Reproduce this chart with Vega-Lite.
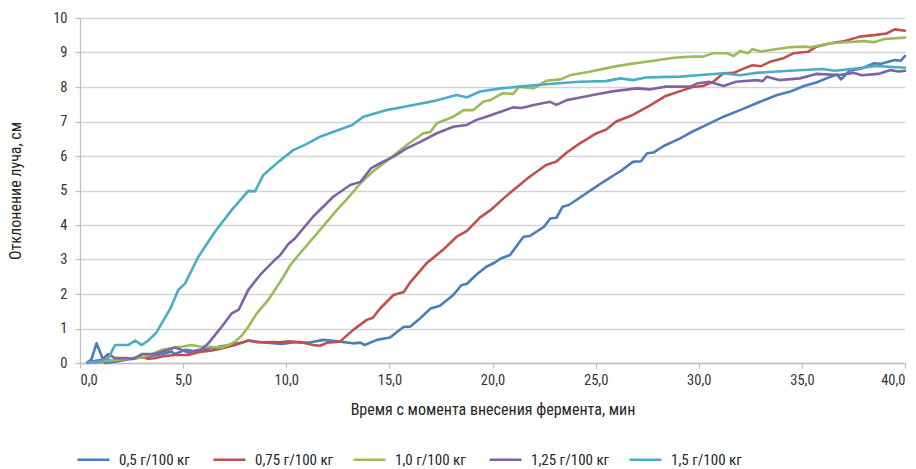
{
  "$schema": "https://vega.github.io/schema/vega-lite/v6.json",
  "autosize": "none",
  "width": 825,
  "height": 345,
  "padding": {"left": 80, "top": 18, "right": 11, "bottom": 106},
  "background": "white",
  "config": {
    "view": {"stroke": null},
    "font": "Roboto Condensed, Liberation Sans Narrow, DejaVu Sans Condensed, sans-serif",
    "axis": {
      "labelFont": "Roboto Condensed, Liberation Sans Narrow, DejaVu Sans Condensed, sans-serif",
      "titleFont": "Roboto Condensed, Liberation Sans Narrow, DejaVu Sans Condensed, sans-serif",
      "labelFontSize": 14.5,
      "titleFontSize": 16,
      "titleFontWeight": "normal",
      "labelColor": "#333333",
      "titleColor": "#262626",
      "gridColor": "#d4d4d4",
      "gridWidth": 1.3,
      "domainColor": "#c0c0c0",
      "domainWidth": 1.3,
      "tickColor": "#c0c0c0",
      "tickWidth": 1.3,
      "tickSize": 5
    },
    "legend": {
      "labelFont": "Roboto Condensed, Liberation Sans Narrow, DejaVu Sans Condensed, sans-serif",
      "labelFontSize": 15,
      "labelColor": "#262626"
    }
  },
  "data": {
    "values": [
      {"s": "0,5 г/100  кг", "t": 0.35, "v": 0.02}, {"s": "0,5 г/100  кг", "t": 0.55, "v": 0.1}, {"s": "0,5 г/100  кг", "t": 0.8, "v": 0.57}, {"s": "0,5 г/100  кг", "t": 1.05, "v": 0.2}, {"s": "0,5 г/100  кг", "t": 1.2, "v": 0.0}, {"s": "0,5 г/100  кг", "t": 1.7, "v": 0.04}, {"s": "0,5 г/100  кг", "t": 2.3, "v": 0.1}, {"s": "0,5 г/100  кг", "t": 3.0, "v": 0.16}, {"s": "0,5 г/100  кг", "t": 3.6, "v": 0.22}, {"s": "0,5 г/100  кг", "t": 3.96, "v": 0.26}, {"s": "0,5 г/100  кг", "t": 4.44, "v": 0.33}, {"s": "0,5 г/100  кг", "t": 4.6, "v": 0.26}, {"s": "0,5 г/100  кг", "t": 5.1, "v": 0.38}, {"s": "0,5 г/100  кг", "t": 5.5, "v": 0.35}, {"s": "0,5 г/100  кг", "t": 5.9, "v": 0.38}, {"s": "0,5 г/100  кг", "t": 6.55, "v": 0.45}, {"s": "0,5 г/100  кг", "t": 7.2, "v": 0.52}, {"s": "0,5 г/100  кг", "t": 7.84, "v": 0.59}, {"s": "0,5 г/100  кг", "t": 8.16, "v": 0.65}, {"s": "0,5 г/100  кг", "t": 8.8, "v": 0.6}, {"s": "0,5 г/100  кг", "t": 9.78, "v": 0.55}, {"s": "0,5 г/100  кг", "t": 10.4, "v": 0.6}, {"s": "0,5 г/100  кг", "t": 10.67, "v": 0.59}, {"s": "0,5 г/100  кг", "t": 11.2, "v": 0.6}, {"s": "0,5 г/100  кг", "t": 11.8, "v": 0.67}, {"s": "0,5 г/100  кг", "t": 12.6, "v": 0.62}, {"s": "0,5 г/100  кг", "t": 13.25, "v": 0.57}, {"s": "0,5 г/100  кг", "t": 13.6, "v": 0.59}, {"s": "0,5 г/100  кг", "t": 13.8, "v": 0.52}, {"s": "0,5 г/100  кг", "t": 14.4, "v": 0.67}, {"s": "0,5 г/100  кг", "t": 15.03, "v": 0.74}, {"s": "0,5 г/100  кг", "t": 15.7, "v": 1.05}, {"s": "0,5 г/100  кг", "t": 16.0, "v": 1.05}, {"s": "0,5 г/100  кг", "t": 16.5, "v": 1.3}, {"s": "0,5 г/100  кг", "t": 17.0, "v": 1.58}, {"s": "0,5 г/100  кг", "t": 17.45, "v": 1.66}, {"s": "0,5 г/100  кг", "t": 18.1, "v": 1.97}, {"s": "0,5 г/100  кг", "t": 18.5, "v": 2.26}, {"s": "0,5 г/100  кг", "t": 18.75, "v": 2.29}, {"s": "0,5 г/100  кг", "t": 19.2, "v": 2.55}, {"s": "0,5 г/100  кг", "t": 19.7, "v": 2.79}, {"s": "0,5 г/100  кг", "t": 20.05, "v": 2.89}, {"s": "0,5 г/100  кг", "t": 20.4, "v": 3.03}, {"s": "0,5 г/100  кг", "t": 20.85, "v": 3.13}, {"s": "0,5 г/100  кг", "t": 21.5, "v": 3.66}, {"s": "0,5 г/100  кг", "t": 21.8, "v": 3.68}, {"s": "0,5 г/100  кг", "t": 22.5, "v": 3.95}, {"s": "0,5 г/100  кг", "t": 22.8, "v": 4.19}, {"s": "0,5 г/100  кг", "t": 23.1, "v": 4.21}, {"s": "0,5 г/100  кг", "t": 23.4, "v": 4.53}, {"s": "0,5 г/100  кг", "t": 23.7, "v": 4.58}, {"s": "0,5 г/100  кг", "t": 24.1, "v": 4.74}, {"s": "0,5 г/100  кг", "t": 24.9, "v": 5.06}, {"s": "0,5 г/100  кг", "t": 25.4, "v": 5.26}, {"s": "0,5 г/100  кг", "t": 25.9, "v": 5.45}, {"s": "0,5 г/100  кг", "t": 26.3, "v": 5.6}, {"s": "0,5 г/100  кг", "t": 26.8, "v": 5.83}, {"s": "0,5 г/100  кг", "t": 27.2, "v": 5.85}, {"s": "0,5 г/100  кг", "t": 27.5, "v": 6.08}, {"s": "0,5 г/100  кг", "t": 27.8, "v": 6.1}, {"s": "0,5 г/100  кг", "t": 28.3, "v": 6.29}, {"s": "0,5 г/100  кг", "t": 29.1, "v": 6.51}, {"s": "0,5 г/100  кг", "t": 29.7, "v": 6.71}, {"s": "0,5 г/100  кг", "t": 30.2, "v": 6.85}, {"s": "0,5 г/100  кг", "t": 31.2, "v": 7.14}, {"s": "0,5 г/100  кг", "t": 32.0, "v": 7.33}, {"s": "0,5 г/100  кг", "t": 32.8, "v": 7.53}, {"s": "0,5 г/100  кг", "t": 33.8, "v": 7.77}, {"s": "0,5 г/100  кг", "t": 34.4, "v": 7.86}, {"s": "0,5 г/100  кг", "t": 35.1, "v": 8.03}, {"s": "0,5 г/100  кг", "t": 35.7, "v": 8.13}, {"s": "0,5 г/100  кг", "t": 36.4, "v": 8.3}, {"s": "0,5 г/100  кг", "t": 36.7, "v": 8.36}, {"s": "0,5 г/100  кг", "t": 36.9, "v": 8.22}, {"s": "0,5 г/100  кг", "t": 37.3, "v": 8.47}, {"s": "0,5 г/100  кг", "t": 37.9, "v": 8.54}, {"s": "0,5 г/100  кг", "t": 38.5, "v": 8.69}, {"s": "0,5 г/100  кг", "t": 38.8, "v": 8.67}, {"s": "0,5 г/100  кг", "t": 39.5, "v": 8.78}, {"s": "0,5 г/100  кг", "t": 39.8, "v": 8.76}, {"s": "0,5 г/100  кг", "t": 40.0, "v": 8.9},

      {"s": "0,75 г/100 кг", "t": 0.35, "v": 0.0}, {"s": "0,75 г/100 кг", "t": 1.0, "v": 0.03}, {"s": "0,75 г/100 кг", "t": 1.37, "v": 0.07}, {"s": "0,75 г/100 кг", "t": 2.2, "v": 0.11}, {"s": "0,75 г/100 кг", "t": 3.0, "v": 0.18}, {"s": "0,75 г/100 кг", "t": 3.3, "v": 0.12}, {"s": "0,75 г/100 кг", "t": 3.6, "v": 0.14}, {"s": "0,75 г/100 кг", "t": 4.1, "v": 0.2}, {"s": "0,75 г/100 кг", "t": 4.6, "v": 0.23}, {"s": "0,75 г/100 кг", "t": 5.25, "v": 0.23}, {"s": "0,75 г/100 кг", "t": 5.9, "v": 0.33}, {"s": "0,75 г/100 кг", "t": 6.4, "v": 0.36}, {"s": "0,75 г/100 кг", "t": 6.87, "v": 0.42}, {"s": "0,75 г/100 кг", "t": 7.52, "v": 0.52}, {"s": "0,75 г/100 кг", "t": 8.16, "v": 0.65}, {"s": "0,75 г/100 кг", "t": 8.6, "v": 0.6}, {"s": "0,75 г/100 кг", "t": 9.4, "v": 0.61}, {"s": "0,75 г/100 кг", "t": 9.7, "v": 0.6}, {"s": "0,75 г/100 кг", "t": 10.1, "v": 0.63}, {"s": "0,75 г/100 кг", "t": 10.67, "v": 0.61}, {"s": "0,75 г/100 кг", "t": 11.3, "v": 0.52}, {"s": "0,75 г/100 кг", "t": 11.64, "v": 0.5}, {"s": "0,75 г/100 кг", "t": 12.0, "v": 0.59}, {"s": "0,75 г/100 кг", "t": 12.6, "v": 0.62}, {"s": "0,75 г/100 кг", "t": 13.25, "v": 0.96}, {"s": "0,75 г/100 кг", "t": 13.9, "v": 1.25}, {"s": "0,75 г/100 кг", "t": 14.2, "v": 1.31}, {"s": "0,75 г/100 кг", "t": 14.55, "v": 1.58}, {"s": "0,75 г/100 кг", "t": 15.2, "v": 1.97}, {"s": "0,75 г/100 кг", "t": 15.7, "v": 2.06}, {"s": "0,75 г/100 кг", "t": 16.0, "v": 2.33}, {"s": "0,75 г/100 кг", "t": 16.8, "v": 2.89}, {"s": "0,75 г/100 кг", "t": 17.6, "v": 3.28}, {"s": "0,75 г/100 кг", "t": 18.26, "v": 3.66}, {"s": "0,75 г/100 кг", "t": 18.75, "v": 3.82}, {"s": "0,75 г/100 кг", "t": 19.4, "v": 4.22}, {"s": "0,75 г/100 кг", "t": 19.9, "v": 4.43}, {"s": "0,75 г/100 кг", "t": 20.4, "v": 4.7}, {"s": "0,75 г/100 кг", "t": 21.0, "v": 5.01}, {"s": "0,75 г/100 кг", "t": 21.8, "v": 5.4}, {"s": "0,75 г/100 кг", "t": 22.6, "v": 5.74}, {"s": "0,75 г/100 кг", "t": 23.1, "v": 5.84}, {"s": "0,75 г/100 кг", "t": 23.6, "v": 6.1}, {"s": "0,75 г/100 кг", "t": 24.2, "v": 6.35}, {"s": "0,75 г/100 кг", "t": 25.05, "v": 6.66}, {"s": "0,75 г/100 кг", "t": 25.5, "v": 6.76}, {"s": "0,75 г/100 кг", "t": 26.0, "v": 7.0}, {"s": "0,75 г/100 кг", "t": 26.8, "v": 7.19}, {"s": "0,75 г/100 кг", "t": 27.6, "v": 7.45}, {"s": "0,75 г/100 кг", "t": 28.4, "v": 7.74}, {"s": "0,75 г/100 кг", "t": 29.1, "v": 7.88}, {"s": "0,75 г/100 кг", "t": 29.7, "v": 8.0}, {"s": "0,75 г/100 кг", "t": 30.2, "v": 8.03}, {"s": "0,75 г/100 кг", "t": 30.7, "v": 8.15}, {"s": "0,75 г/100 кг", "t": 31.2, "v": 8.4}, {"s": "0,75 г/100 кг", "t": 31.7, "v": 8.41}, {"s": "0,75 г/100 кг", "t": 32.2, "v": 8.54}, {"s": "0,75 г/100 кг", "t": 32.6, "v": 8.63}, {"s": "0,75 г/100 кг", "t": 33.0, "v": 8.6}, {"s": "0,75 г/100 кг", "t": 33.45, "v": 8.73}, {"s": "0,75 г/100 кг", "t": 34.1, "v": 8.83}, {"s": "0,75 г/100 кг", "t": 34.6, "v": 8.98}, {"s": "0,75 г/100 кг", "t": 35.3, "v": 9.02}, {"s": "0,75 г/100 кг", "t": 35.7, "v": 9.17}, {"s": "0,75 г/100 кг", "t": 36.4, "v": 9.27}, {"s": "0,75 г/100 кг", "t": 37.1, "v": 9.33}, {"s": "0,75 г/100 кг", "t": 37.8, "v": 9.46}, {"s": "0,75 г/100 кг", "t": 38.6, "v": 9.51}, {"s": "0,75 г/100 кг", "t": 39.1, "v": 9.55}, {"s": "0,75 г/100 кг", "t": 39.5, "v": 9.67}, {"s": "0,75 г/100 кг", "t": 40.0, "v": 9.63},

      {"s": "1,0 г/100  кг", "t": 0.35, "v": 0.0}, {"s": "1,0 г/100  кг", "t": 1.37, "v": 0.07}, {"s": "1,0 г/100  кг", "t": 2.2, "v": 0.12}, {"s": "1,0 г/100  кг", "t": 3.0, "v": 0.16}, {"s": "1,0 г/100  кг", "t": 3.5, "v": 0.26}, {"s": "1,0 г/100  кг", "t": 3.96, "v": 0.38}, {"s": "1,0 г/100  кг", "t": 4.6, "v": 0.45}, {"s": "1,0 г/100  кг", "t": 5.0, "v": 0.48}, {"s": "1,0 г/100  кг", "t": 5.4, "v": 0.52}, {"s": "1,0 г/100  кг", "t": 5.8, "v": 0.48}, {"s": "1,0 г/100  кг", "t": 6.2, "v": 0.47}, {"s": "1,0 г/100  кг", "t": 6.87, "v": 0.45}, {"s": "1,0 г/100  кг", "t": 7.2, "v": 0.52}, {"s": "1,0 г/100  кг", "t": 7.52, "v": 0.62}, {"s": "1,0 г/100  кг", "t": 7.85, "v": 0.8}, {"s": "1,0 г/100  кг", "t": 8.16, "v": 1.05}, {"s": "1,0 г/100  кг", "t": 8.57, "v": 1.44}, {"s": "1,0 г/100  кг", "t": 9.13, "v": 1.83}, {"s": "1,0 г/100  кг", "t": 9.78, "v": 2.42}, {"s": "1,0 г/100  кг", "t": 10.2, "v": 2.84}, {"s": "1,0 г/100  кг", "t": 10.67, "v": 3.18}, {"s": "1,0 г/100  кг", "t": 11.64, "v": 3.86}, {"s": "1,0 г/100  кг", "t": 12.45, "v": 4.43}, {"s": "1,0 г/100  кг", "t": 12.9, "v": 4.72}, {"s": "1,0 г/100  кг", "t": 13.6, "v": 5.21}, {"s": "1,0 г/100  кг", "t": 14.2, "v": 5.55}, {"s": "1,0 г/100  кг", "t": 15.03, "v": 5.93}, {"s": "1,0 г/100  кг", "t": 15.84, "v": 6.32}, {"s": "1,0 г/100  кг", "t": 16.65, "v": 6.66}, {"s": "1,0 г/100  кг", "t": 17.0, "v": 6.7}, {"s": "1,0 г/100  кг", "t": 17.3, "v": 6.95}, {"s": "1,0 г/100  кг", "t": 18.1, "v": 7.14}, {"s": "1,0 г/100  кг", "t": 18.6, "v": 7.33}, {"s": "1,0 г/100  кг", "t": 19.07, "v": 7.33}, {"s": "1,0 г/100  кг", "t": 19.55, "v": 7.57}, {"s": "1,0 г/100  кг", "t": 19.9, "v": 7.62}, {"s": "1,0 г/100  кг", "t": 20.5, "v": 7.82}, {"s": "1,0 г/100  кг", "t": 21.0, "v": 7.8}, {"s": "1,0 г/100  кг", "t": 21.3, "v": 8.01}, {"s": "1,0 г/100  кг", "t": 22.0, "v": 7.96}, {"s": "1,0 г/100  кг", "t": 22.6, "v": 8.18}, {"s": "1,0 г/100  кг", "t": 23.3, "v": 8.22}, {"s": "1,0 г/100  кг", "t": 23.8, "v": 8.35}, {"s": "1,0 г/100  кг", "t": 24.7, "v": 8.44}, {"s": "1,0 г/100  кг", "t": 25.9, "v": 8.59}, {"s": "1,0 г/100  кг", "t": 26.7, "v": 8.67}, {"s": "1,0 г/100  кг", "t": 27.8, "v": 8.76}, {"s": "1,0 г/100  кг", "t": 28.8, "v": 8.85}, {"s": "1,0 г/100  кг", "t": 29.7, "v": 8.88}, {"s": "1,0 г/100  кг", "t": 30.2, "v": 8.88}, {"s": "1,0 г/100  кг", "t": 30.7, "v": 8.98}, {"s": "1,0 г/100  кг", "t": 31.35, "v": 8.98}, {"s": "1,0 г/100  кг", "t": 31.7, "v": 8.9}, {"s": "1,0 г/100  кг", "t": 32.0, "v": 9.04}, {"s": "1,0 г/100  кг", "t": 32.4, "v": 8.98}, {"s": "1,0 г/100  кг", "t": 32.6, "v": 9.1}, {"s": "1,0 г/100  кг", "t": 33.0, "v": 9.03}, {"s": "1,0 г/100  кг", "t": 34.4, "v": 9.15}, {"s": "1,0 г/100  кг", "t": 35.1, "v": 9.17}, {"s": "1,0 г/100  кг", "t": 35.4, "v": 9.15}, {"s": "1,0 г/100  кг", "t": 36.4, "v": 9.27}, {"s": "1,0 г/100  кг", "t": 38.0, "v": 9.33}, {"s": "1,0 г/100  кг", "t": 38.5, "v": 9.3}, {"s": "1,0 г/100  кг", "t": 39.0, "v": 9.39}, {"s": "1,0 г/100  кг", "t": 40.0, "v": 9.43},

      {"s": "1,25 г/100 кг", "t": 0.35, "v": 0.02}, {"s": "1,25 г/100 кг", "t": 1.05, "v": 0.09}, {"s": "1,25 г/100 кг", "t": 1.37, "v": 0.26}, {"s": "1,25 г/100 кг", "t": 1.7, "v": 0.14}, {"s": "1,25 г/100 кг", "t": 2.3, "v": 0.14}, {"s": "1,25 г/100 кг", "t": 2.6, "v": 0.12}, {"s": "1,25 г/100 кг", "t": 3.0, "v": 0.26}, {"s": "1,25 г/100 кг", "t": 3.6, "v": 0.26}, {"s": "1,25 г/100 кг", "t": 4.1, "v": 0.35}, {"s": "1,25 г/100 кг", "t": 4.6, "v": 0.45}, {"s": "1,25 г/100 кг", "t": 4.93, "v": 0.38}, {"s": "1,25 г/100 кг", "t": 5.25, "v": 0.3}, {"s": "1,25 г/100 кг", "t": 5.9, "v": 0.4}, {"s": "1,25 г/100 кг", "t": 6.22, "v": 0.57}, {"s": "1,25 г/100 кг", "t": 6.87, "v": 1.05}, {"s": "1,25 г/100 кг", "t": 7.36, "v": 1.44}, {"s": "1,25 г/100 кг", "t": 7.7, "v": 1.55}, {"s": "1,25 г/100 кг", "t": 8.16, "v": 2.12}, {"s": "1,25 г/100 кг", "t": 8.8, "v": 2.6}, {"s": "1,25 г/100 кг", "t": 9.45, "v": 2.99}, {"s": "1,25 г/100 кг", "t": 9.7, "v": 3.12}, {"s": "1,25 г/100 кг", "t": 10.1, "v": 3.45}, {"s": "1,25 г/100 кг", "t": 10.42, "v": 3.61}, {"s": "1,25 г/100 кг", "t": 11.3, "v": 4.24}, {"s": "1,25 г/100 кг", "t": 12.28, "v": 4.82}, {"s": "1,25 г/100 кг", "t": 13.1, "v": 5.16}, {"s": "1,25 г/100 кг", "t": 13.6, "v": 5.25}, {"s": "1,25 г/100 кг", "t": 14.1, "v": 5.64}, {"s": "1,25 г/100 кг", "t": 14.55, "v": 5.79}, {"s": "1,25 г/100 кг", "t": 15.2, "v": 5.98}, {"s": "1,25 г/100 кг", "t": 15.84, "v": 6.22}, {"s": "1,25 г/100 кг", "t": 16.5, "v": 6.41}, {"s": "1,25 г/100 кг", "t": 17.3, "v": 6.66}, {"s": "1,25 г/100 кг", "t": 18.1, "v": 6.85}, {"s": "1,25 г/100 кг", "t": 18.75, "v": 6.9}, {"s": "1,25 г/100 кг", "t": 19.2, "v": 7.04}, {"s": "1,25 г/100 кг", "t": 19.7, "v": 7.14}, {"s": "1,25 г/100 кг", "t": 20.4, "v": 7.28}, {"s": "1,25 г/100 кг", "t": 21.0, "v": 7.41}, {"s": "1,25 г/100 кг", "t": 21.4, "v": 7.39}, {"s": "1,25 г/100 кг", "t": 22.0, "v": 7.48}, {"s": "1,25 г/100 кг", "t": 22.8, "v": 7.57}, {"s": "1,25 г/100 кг", "t": 23.1, "v": 7.48}, {"s": "1,25 г/100 кг", "t": 23.6, "v": 7.62}, {"s": "1,25 г/100 кг", "t": 24.2, "v": 7.69}, {"s": "1,25 г/100 кг", "t": 25.05, "v": 7.79}, {"s": "1,25 г/100 кг", "t": 25.9, "v": 7.88}, {"s": "1,25 г/100 кг", "t": 27.0, "v": 7.96}, {"s": "1,25 г/100 кг", "t": 27.6, "v": 7.93}, {"s": "1,25 г/100 кг", "t": 28.4, "v": 8.01}, {"s": "1,25 г/100 кг", "t": 29.6, "v": 8.01}, {"s": "1,25 г/100 кг", "t": 29.9, "v": 8.1}, {"s": "1,25 г/100 кг", "t": 30.5, "v": 8.15}, {"s": "1,25 г/100 кг", "t": 31.2, "v": 8.03}, {"s": "1,25 г/100 кг", "t": 31.8, "v": 8.15}, {"s": "1,25 г/100 кг", "t": 32.8, "v": 8.2}, {"s": "1,25 г/100 кг", "t": 33.1, "v": 8.17}, {"s": "1,25 г/100 кг", "t": 33.3, "v": 8.3}, {"s": "1,25 г/100 кг", "t": 33.9, "v": 8.2}, {"s": "1,25 г/100 кг", "t": 34.9, "v": 8.25}, {"s": "1,25 г/100 кг", "t": 35.7, "v": 8.38}, {"s": "1,25 г/100 кг", "t": 36.8, "v": 8.35}, {"s": "1,25 г/100 кг", "t": 37.5, "v": 8.41}, {"s": "1,25 г/100 кг", "t": 37.9, "v": 8.34}, {"s": "1,25 г/100 кг", "t": 38.7, "v": 8.38}, {"s": "1,25 г/100 кг", "t": 39.3, "v": 8.49}, {"s": "1,25 г/100 кг", "t": 39.7, "v": 8.45}, {"s": "1,25 г/100 кг", "t": 40.0, "v": 8.47},

      {"s": "1,5 г/100 кг", "t": 0.35, "v": 0.02}, {"s": "1,5 г/100 кг", "t": 0.9, "v": 0.04}, {"s": "1,5 г/100 кг", "t": 1.37, "v": 0.14}, {"s": "1,5 г/100 кг", "t": 1.7, "v": 0.52}, {"s": "1,5 г/100 кг", "t": 2.34, "v": 0.52}, {"s": "1,5 г/100 кг", "t": 2.67, "v": 0.65}, {"s": "1,5 г/100 кг", "t": 3.0, "v": 0.52}, {"s": "1,5 г/100 кг", "t": 3.3, "v": 0.65}, {"s": "1,5 г/100 кг", "t": 3.7, "v": 0.88}, {"s": "1,5 г/100 кг", "t": 3.96, "v": 1.15}, {"s": "1,5 г/100 кг", "t": 4.4, "v": 1.6}, {"s": "1,5 г/100 кг", "t": 4.77, "v": 2.12}, {"s": "1,5 г/100 кг", "t": 5.09, "v": 2.3}, {"s": "1,5 г/100 кг", "t": 5.74, "v": 3.08}, {"s": "1,5 г/100 кг", "t": 6.55, "v": 3.81}, {"s": "1,5 г/100 кг", "t": 7.35, "v": 4.43}, {"s": "1,5 г/100 кг", "t": 8.16, "v": 4.99}, {"s": "1,5 г/100 кг", "t": 8.48, "v": 4.97}, {"s": "1,5 г/100 кг", "t": 8.89, "v": 5.45}, {"s": "1,5 г/100 кг", "t": 9.62, "v": 5.83}, {"s": "1,5 г/100 кг", "t": 10.34, "v": 6.17}, {"s": "1,5 г/100 кг", "t": 11.0, "v": 6.35}, {"s": "1,5 г/100 кг", "t": 11.64, "v": 6.56}, {"s": "1,5 г/100 кг", "t": 12.6, "v": 6.77}, {"s": "1,5 г/100 кг", "t": 13.2, "v": 6.9}, {"s": "1,5 г/100 кг", "t": 13.74, "v": 7.14}, {"s": "1,5 г/100 кг", "t": 14.87, "v": 7.33}, {"s": "1,5 г/100 кг", "t": 16.16, "v": 7.48}, {"s": "1,5 г/100 кг", "t": 17.13, "v": 7.59}, {"s": "1,5 г/100 кг", "t": 18.26, "v": 7.77}, {"s": "1,5 г/100 кг", "t": 18.75, "v": 7.7}, {"s": "1,5 г/100 кг", "t": 19.4, "v": 7.87}, {"s": "1,5 г/100 кг", "t": 20.4, "v": 7.96}, {"s": "1,5 г/100 кг", "t": 21.3, "v": 8.01}, {"s": "1,5 г/100 кг", "t": 22.6, "v": 8.08}, {"s": "1,5 г/100 кг", "t": 24.2, "v": 8.15}, {"s": "1,5 г/100 кг", "t": 25.5, "v": 8.17}, {"s": "1,5 г/100 кг", "t": 26.2, "v": 8.25}, {"s": "1,5 г/100 кг", "t": 26.8, "v": 8.2}, {"s": "1,5 г/100 кг", "t": 27.5, "v": 8.28}, {"s": "1,5 г/100 кг", "t": 29.1, "v": 8.3}, {"s": "1,5 г/100 кг", "t": 30.1, "v": 8.35}, {"s": "1,5 г/100 кг", "t": 31.2, "v": 8.4}, {"s": "1,5 г/100 кг", "t": 32.0, "v": 8.34}, {"s": "1,5 г/100 кг", "t": 32.8, "v": 8.41}, {"s": "1,5 г/100 кг", "t": 34.4, "v": 8.47}, {"s": "1,5 г/100 кг", "t": 36.0, "v": 8.52}, {"s": "1,5 г/100 кг", "t": 36.6, "v": 8.47}, {"s": "1,5 г/100 кг", "t": 37.7, "v": 8.54}, {"s": "1,5 г/100 кг", "t": 38.6, "v": 8.61}, {"s": "1,5 г/100 кг", "t": 40.0, "v": 8.56}
    ]
  },
  "mark": {"type": "line", "strokeWidth": 2.6, "strokeJoin": "round", "strokeCap": "round"},
  "encoding": {
    "x": {
      "field": "t",
      "type": "quantitative",
      "scale": {"domain": [0, 40], "nice": false},
      "axis": {
        "title": "Время с момента внесения фермента, мин",
        "values": [0, 5, 10, 15, 20, 25, 30, 35, 40],
        "grid": false,
        "labelPadding": 5,
        "titleY": 38,
        "labelExpr": "replace(format(datum.value, '.1f'), '.', ',')"
      }
    },
    "y": {
      "field": "v",
      "type": "quantitative",
      "scale": {"domain": [0, 10], "nice": false},
      "axis": {
        "title": "Отклонение луча, см",
        "values": [0, 1, 2, 3, 4, 5, 6, 7, 8, 9, 10],
        "grid": true,
        "labelPadding": 8,
        "titleX": -57
      }
    },
    "color": {
      "field": "s",
      "type": "nominal",
      "scale": {
        "domain": ["0,5 г/100  кг", "0,75 г/100 кг", "1,0 г/100  кг", "1,25 г/100 кг", "1,5 г/100 кг"],
        "range": ["#4a7ebb", "#c0504d", "#9bbb59", "#8064a2", "#4bacc6"]
      },
      "legend": {
        "title": null,
        "orient": "none",
        "direction": "horizontal",
        "legendX": -4,
        "legendY": 424,
        "symbolType": "stroke",
        "symbolSize": 1024,
        "symbolStrokeWidth": 2.6,
        "labelOffset": 8,
        "columnPadding": 14
      }
    }
  }
}
